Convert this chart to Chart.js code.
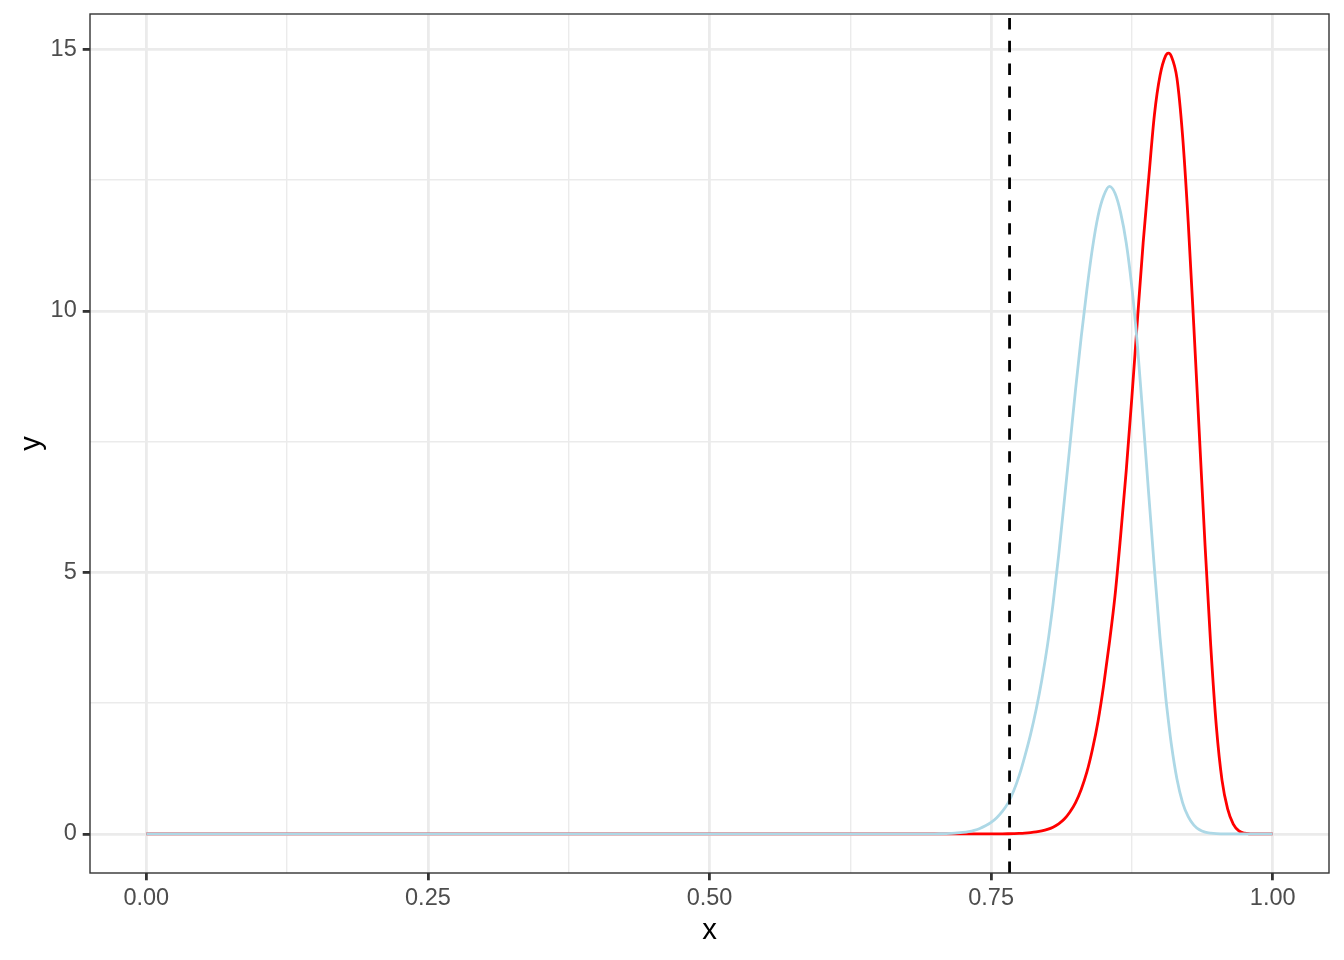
<!DOCTYPE html>
<html>
<head>
<meta charset="utf-8">
<script src="https://cdn.jsdelivr.net/npm/chart.js@4.4.0/dist/chart.umd.min.js"></script>
<style>
  html, body { margin: 0; padding: 0; background: #ffffff; }
  canvas { display: block; }
</style>
</head>
<body>
<canvas id="densityChart" width="1344" height="960"></canvas>
<script>
const xValues = [
  0, 0.1, 0.2, 0.3, 0.4, 0.5, 0.6, 0.65,
  0.700, 0.705, 0.710, 0.715, 0.720, 0.725, 0.730, 0.735, 0.740, 0.745,
  0.750, 0.755, 0.760, 0.765, 0.770, 0.775, 0.780, 0.785, 0.790, 0.795,
  0.800, 0.805, 0.810, 0.815, 0.820, 0.825, 0.830, 0.835, 0.840, 0.845,
  0.850, 0.855, 0.860, 0.865, 0.870, 0.875, 0.880, 0.885, 0.890, 0.895,
  0.900, 0.905, 0.9075, 0.910, 0.915, 0.920, 0.925, 0.930, 0.935, 0.940, 0.945,
  0.950, 0.955, 0.960, 0.965, 0.970, 0.975, 0.980, 0.985, 0.990, 0.995,
  1.000
];

// light blue curve
const blueValues = [
  0, 0, 0, 0, 0, 0, 0, 0.001,
  0.002, 0.004, 0.007, 0.012, 0.019, 0.03, 0.046, 0.07, 0.105, 0.155,
  0.22, 0.31, 0.43, 0.59, 0.82, 1.12, 1.49, 1.90, 2.38, 2.94,
  3.60, 4.40, 5.33, 6.37, 7.43, 8.50, 9.50, 10.40, 11.20, 11.82,
  12.20, 12.38, 12.25, 11.88, 11.30, 10.45, 9.32, 7.92, 6.48, 5.07,
  3.75, 2.62, 2.15, 1.72, 1.05, 0.60, 0.33, 0.17, 0.08, 0.035, 0.015,
  0.005, 0.002, 0, 0, 0, 0, 0, 0, 0, 0,
  0
];

// red curve
const redValues = [
  0, 0, 0, 0, 0, 0, 0, 0,
  0, 0, 0, 0, 0, 0, 0, 0, 0.0005, 0.0007,
  0.001, 0.0015, 0.0025, 0.004, 0.0065, 0.010, 0.016, 0.025, 0.038, 0.058,
  0.087, 0.13, 0.193, 0.285, 0.42, 0.60, 0.85, 1.18, 1.62, 2.16,
  2.85, 3.65, 4.55, 5.70, 6.95, 8.35, 9.85, 11.30, 12.55, 13.75,
  14.50, 14.88, 14.93, 14.87, 14.45, 13.35, 11.70, 9.70, 7.60, 5.50, 3.60,
  2.05, 1.03, 0.48, 0.19, 0.06, 0.015, 0.003, 0, 0, 0,
  0
];

const cutoffX = 0.7664; // dashed vertical line

const xMajorTicks = [0, 0.25, 0.5, 0.75, 1];
const xMinorTicks = [0.125, 0.375, 0.625, 0.875];
const xTickLabels = ["0.00", "0.25", "0.50", "0.75", "1.00"];

const yMajorTicks = [0, 5, 10, 15];
const yMinorTicks = [2.5, 7.5, 12.5];
const yTickLabels = ["0", "5", "10", "15"];

Chart.defaults.font.family = "'Liberation Sans', Arial, sans-serif";

const toPoints = (ys) => xValues.map((x, i) => ({ x: x, y: ys[i] }));

const isMajor = (list, c) => c.tick !== undefined && list.includes(c.tick.value);

const panelPlugin = {
  id: "panel",
  afterDatasetsDraw(chart) {
    const { ctx, chartArea, scales } = chart;
    const px = scales.x.getPixelForValue(cutoffX);
    ctx.save();
    ctx.strokeStyle = "#000000";
    ctx.lineWidth = 2.8;
    ctx.setLineDash([11.4, 11.4]);
    ctx.beginPath();
    ctx.moveTo(px, chartArea.bottom);
    ctx.lineTo(px, chartArea.top);
    ctx.stroke();
    ctx.setLineDash([]);
    ctx.strokeStyle = "#333333";
    ctx.lineWidth = 1.4;
    ctx.strokeRect(chartArea.left, chartArea.top, chartArea.right - chartArea.left, chartArea.bottom - chartArea.top);
    ctx.restore();
  }
};

new Chart("densityChart", {
  type: "line",
  data: {
    datasets: [
      {
        data: toPoints(blueValues),
        borderColor: "#ADD8E6",
        borderWidth: 2.8,
        pointRadius: 0,
        fill: false,
        cubicInterpolationMode: "monotone"
      },
      {
        data: toPoints(redValues),
        borderColor: "#FF0000",
        borderWidth: 2.8,
        pointRadius: 0,
        fill: false,
        cubicInterpolationMode: "monotone"
      }
    ]
  },
  options: {
    responsive: false,
    animation: false,
    layout: { padding: { left: 0, right: 15, top: 14, bottom: 0 } },
    plugins: {
      legend: { display: false },
      tooltip: { enabled: false }
    },
    scales: {
      x: {
        type: "linear",
        min: -0.05,
        max: 1.05,
        afterBuildTicks: (scale) => {
          scale.ticks = xMajorTicks.concat(xMinorTicks).sort((a, b) => a - b).map((v) => ({ value: v }));
        },
        afterFit: (scale) => {
          scale.height = 87;
          scale.paddingLeft = 0;
          scale.paddingRight = 0;
        },
        border: { display: false },
        grid: {
          color: "#EBEBEB",
          lineWidth: (c) => isMajor(xMajorTicks, c) ? 2.8 : 1.4,
          tickColor: (c) => isMajor(xMajorTicks, c) ? "#333333" : "rgba(0,0,0,0)",
          tickWidth: 2.8,
          tickLength: 7.3
        },
        ticks: {
          autoSkip: false,
          maxRotation: 0,
          padding: 4,
          color: "#4D4D4D",
          font: { size: 23.5 },
          callback: (value) => {
            const i = xMajorTicks.indexOf(value);
            return i >= 0 ? xTickLabels[i] : "";
          }
        },
        title: {
          display: true,
          text: "x",
          color: "#000000",
          font: { size: 29.3 },
          padding: { top: 0, bottom: 12 }
        }
      },
      y: {
        type: "linear",
        min: -0.7465,
        max: 15.677,
        afterBuildTicks: (scale) => {
          scale.ticks = yMajorTicks.concat(yMinorTicks).sort((a, b) => a - b).map((v) => ({ value: v }));
        },
        afterFit: (scale) => {
          scale.width = 90;
          scale.paddingTop = 0;
          scale.paddingBottom = 0;
        },
        border: { display: false },
        grid: {
          color: "#EBEBEB",
          lineWidth: (c) => isMajor(yMajorTicks, c) ? 2.8 : 1.4,
          tickColor: (c) => isMajor(yMajorTicks, c) ? "#333333" : "rgba(0,0,0,0)",
          tickWidth: 2.8,
          tickLength: 7.3
        },
        ticks: {
          autoSkip: false,
          padding: 6,
          color: "#4D4D4D",
          font: { size: 23.5 },
          callback: (value) => {
            const i = yMajorTicks.indexOf(value);
            return i >= 0 ? yTickLabels[i] : "";
          }
        },
        title: {
          display: true,
          text: "y",
          color: "#000000",
          font: { size: 29.3 },
          padding: { top: 14, bottom: 0 }
        }
      }
    }
  },
  plugins: [panelPlugin]
});
</script>
</body>
</html>
